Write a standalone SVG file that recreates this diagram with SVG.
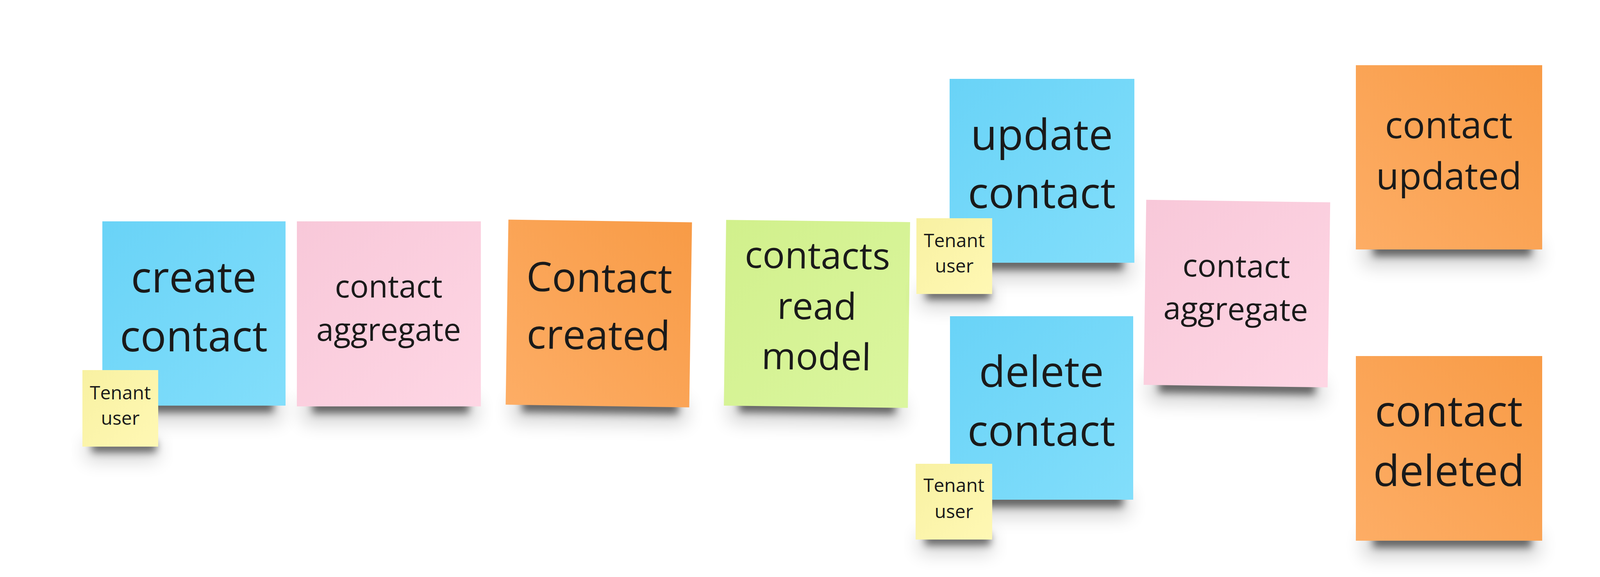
<svg xmlns="http://www.w3.org/2000/svg" width="4227" height="1478" viewBox="0 0 4227 1478">
<defs>
<style>
text{font-family:"Open Sans","Noto Sans","DejaVu Sans",sans-serif;fill:#1a1a1a;text-anchor:middle}
.big{font-size:110px}
.ev{font-size:104px}
.mid{font-size:95px}
.agg{font-size:80px}
.small{font-size:48px}
.sh1{fill:#000;opacity:0.55;filter:url(#blurA)}
.sh2{fill:#000;opacity:0.18;filter:url(#blurB)}
</style>
<filter id="blurA" x="-20%" y="-200%" width="140%" height="500%"><feGaussianBlur stdDeviation="10"/></filter>
<filter id="blurB" x="-20%" y="-200%" width="140%" height="500%"><feGaussianBlur stdDeviation="24"/></filter>
<linearGradient id="gBlue" x1="0" y1="0" x2="1" y2="1"><stop offset="0" stop-color="#69D3F7"/><stop offset="1" stop-color="#82DEFB"/></linearGradient>
<linearGradient id="gPink" x1="0" y1="0" x2="1" y2="1"><stop offset="0" stop-color="#F8C8D9"/><stop offset="1" stop-color="#FED6E4"/></linearGradient>
<linearGradient id="gOrange" x1="1" y1="0" x2="0" y2="1"><stop offset="0" stop-color="#F89B46"/><stop offset="1" stop-color="#FDAD65"/></linearGradient>
<linearGradient id="gGreen" x1="0" y1="0" x2="1" y2="1"><stop offset="0" stop-color="#D1F08C"/><stop offset="1" stop-color="#DBF69F"/></linearGradient>
<linearGradient id="gYellow" x1="0" y1="0" x2="1" y2="1"><stop offset="0" stop-color="#F8F1A2"/><stop offset="1" stop-color="#FFF8B4"/></linearGradient>
</defs>
<rect width="4227" height="1478" fill="#ffffff"/>

<g id="create-contact">
<rect class="sh2" x="280" y="1020" width="440" height="60"/>
<rect class="sh1" x="300" y="1022" width="400" height="34"/>
<rect x="262" y="567" width="469" height="472" fill="url(#gBlue)"/>
<text class="big" x="496" y="749">create</text>
<text class="big" x="496" y="900">contact</text>
</g>

<g id="tenant-user-1">
<rect class="sh2" x="220" y="1128" width="185" height="50"/>
<rect class="sh1" x="235" y="1130" width="165" height="28"/>
<rect x="211" y="948" width="194" height="196" fill="url(#gYellow)"/>
<text class="small" x="308" y="1023">Tenant</text>
<text class="small" x="308" y="1088">user</text>
</g>

<g id="contact-aggregate-1">
<rect class="sh2" x="775" y="1022" width="445" height="60"/>
<rect class="sh1" x="800" y="1024" width="400" height="34"/>
<rect x="760" y="567" width="471" height="474" fill="url(#gPink)"/>
<text class="agg" x="995" y="762">contact</text>
<text class="agg" x="995" y="873">aggregate</text>
</g>

<g id="contact-created" transform="rotate(0.85 1533 803)">
<rect class="sh2" x="1315" y="1022" width="445" height="60"/>
<rect class="sh1" x="1340" y="1024" width="400" height="34"/>
<rect x="1298" y="566" width="470" height="474" fill="url(#gOrange)"/>
<text class="ev" x="1533" y="748">Contact</text>
<text class="ev" x="1533" y="895">created</text>
</g>

<g id="contacts-read-model" transform="rotate(0.7 2091 804)">
<rect class="sh2" x="1870" y="1022" width="445" height="60"/>
<rect class="sh1" x="1895" y="1024" width="400" height="34"/>
<rect x="1856" y="566" width="471" height="476" fill="url(#gGreen)"/>
<text class="mid" x="2091" y="688">contacts</text>
<text class="mid" x="2091" y="818">read</text>
<text class="mid" x="2091" y="947">model</text>
</g>

<g id="update-contact">
<rect class="sh2" x="2450" y="655" width="445" height="60"/>
<rect class="sh1" x="2475" y="657" width="400" height="34"/>
<rect x="2431" y="202" width="473" height="471" fill="url(#gBlue)"/>
<text class="big" x="2667" y="384">update</text>
<text class="big" x="2667" y="533">contact</text>
</g>

<g id="tenant-user-2">
<rect class="sh2" x="2355" y="737" width="185" height="50"/>
<rect class="sh1" x="2370" y="739" width="165" height="28"/>
<rect x="2346" y="559" width="194" height="194" fill="url(#gYellow)"/>
<text class="small" x="2443" y="633">Tenant</text>
<text class="small" x="2443" y="698">user</text>
</g>

<g id="delete-contact">
<rect class="sh2" x="2450" y="1262" width="440" height="60"/>
<rect class="sh1" x="2475" y="1264" width="400" height="34"/>
<rect x="2432" y="810" width="469" height="470" fill="url(#gBlue)"/>
<text class="big" x="2666" y="991">delete</text>
<text class="big" x="2666" y="1142">contact</text>
</g>

<g id="tenant-user-3">
<rect class="sh2" x="2353" y="1366" width="187" height="50"/>
<rect class="sh1" x="2368" y="1368" width="167" height="28"/>
<rect x="2344" y="1188" width="196" height="194" fill="url(#gYellow)"/>
<text class="small" x="2442" y="1260">Tenant</text>
<text class="small" x="2442" y="1327">user</text>
</g>

<g id="contact-aggregate-2" transform="rotate(0.8 3166 753)">
<rect class="sh2" x="2945" y="972" width="445" height="60"/>
<rect class="sh1" x="2970" y="974" width="400" height="34"/>
<rect x="2931" y="515" width="471" height="474" fill="url(#gPink)"/>
<text class="agg" x="3164" y="710">contact</text>
<text class="agg" x="3164" y="820">aggregate</text>
</g>

<g id="contact-updated">
<rect class="sh2" x="3490" y="620" width="450" height="60"/>
<rect class="sh1" x="3515" y="622" width="405" height="34"/>
<rect x="3471" y="167" width="477" height="472" fill="url(#gOrange)"/>
<text class="mid" x="3709" y="354">contact</text>
<text class="mid" x="3709" y="485">updated</text>
</g>

<g id="contact-deleted">
<rect class="sh2" x="3490" y="1366" width="450" height="60"/>
<rect class="sh1" x="3515" y="1368" width="405" height="34"/>
<rect x="3471" y="912" width="477" height="473" fill="url(#gOrange)"/>
<text class="big" x="3709" y="1092">contact</text>
<text class="big" x="3709" y="1245">deleted</text>
</g>

<g id="connectors"/>
</svg>
